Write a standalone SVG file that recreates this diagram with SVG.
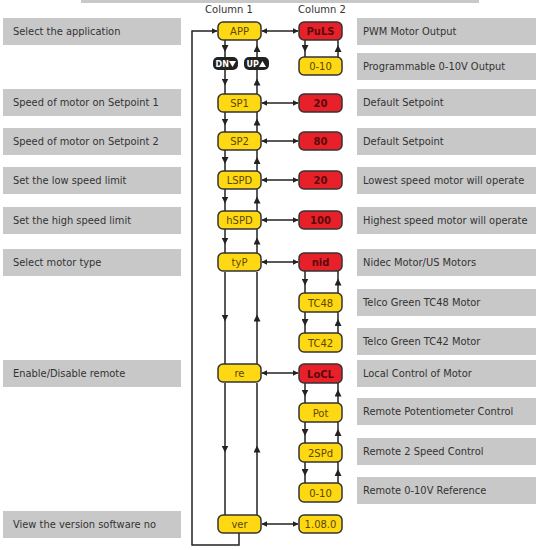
<svg xmlns="http://www.w3.org/2000/svg" width="547" height="550" viewBox="0 0 547 550">
<defs>
<marker id="ah" viewBox="0 0 10 10" refX="9" refY="5" markerWidth="6" markerHeight="6" markerUnits="userSpaceOnUse" orient="auto-start-reverse"><path d="M0,0 L10,5 L0,10 z" fill="#222"/></marker>
<marker id="am" viewBox="0 0 10 10" refX="5" refY="5" markerWidth="7" markerHeight="7" markerUnits="userSpaceOnUse" orient="auto"><path d="M0,0 L10,5 L0,10 z" fill="#222"/></marker>
<style>
.gb{fill:#c8c8c8}
.gt{font-family:"DejaVu Sans",Verdana,sans-serif;font-size:9.9px;fill:#333}
.hd{font-family:"DejaVu Sans",Verdana,sans-serif;font-size:10px;fill:#333;text-anchor:middle}
.y{fill:#ffd814;stroke:#333;stroke-width:1.5}
.r{fill:#e8202a;stroke:#333;stroke-width:1.5}
.yt{font-family:"DejaVu Sans",Verdana,sans-serif;font-size:10px;fill:#5a4800;text-anchor:middle}
.rt{font-family:"DejaVu Sans",Verdana,sans-serif;font-size:10px;font-weight:bold;fill:#5a0a0a;text-anchor:middle}
.ln{fill:none;stroke:#222;stroke-width:1.5}
.bt{fill:#222}
.btt{font-family:"DejaVu Sans",Verdana,sans-serif;font-size:8px;font-weight:bold;fill:#fff}
</style>
</defs>
<rect class="gb" x="81" y="-3" width="398" height="6"/>
<text class="hd" x="229" y="13">Column 1</text>
<text class="hd" x="322" y="13">Column 2</text>

<g id="left-labels">
<g id="l1"><rect class="gb" x="3" y="18" width="178" height="27"/><text class="gt" x="13" y="35">Select the application</text></g>
<g id="l2"><rect class="gb" x="3" y="89" width="178" height="27"/><text class="gt" x="13" y="106">Speed of motor on Setpoint 1</text></g>
<g id="l3"><rect class="gb" x="3" y="128" width="178" height="27"/><text class="gt" x="13" y="145">Speed of motor on Setpoint 2</text></g>
<g id="l4"><rect class="gb" x="3" y="167" width="178" height="27"/><text class="gt" x="13" y="184">Set the low speed limit</text></g>
<g id="l5"><rect class="gb" x="3" y="207" width="178" height="27"/><text class="gt" x="13" y="224">Set the high speed limit</text></g>
<g id="l6"><rect class="gb" x="3" y="249" width="178" height="27"/><text class="gt" x="13" y="266">Select motor type</text></g>
<g id="l7"><rect class="gb" x="3" y="360" width="178" height="27"/><text class="gt" x="13" y="377">Enable/Disable remote</text></g>
<g id="l8"><rect class="gb" x="3" y="511" width="178" height="27"/><text class="gt" x="13" y="528">View the version software no</text></g>
</g>

<g id="right-labels">
<g id="r1"><rect class="gb" x="357" y="18" width="179" height="27"/><text class="gt" x="363" y="35">PWM Motor Output</text></g>
<g id="r2"><rect class="gb" x="357" y="53" width="179" height="27"/><text class="gt" x="363" y="70">Programmable 0-10V Output</text></g>
<g id="r3"><rect class="gb" x="357" y="89" width="179" height="27"/><text class="gt" x="363" y="106">Default Setpoint</text></g>
<g id="r4"><rect class="gb" x="357" y="128" width="179" height="27"/><text class="gt" x="363" y="145">Default Setpoint</text></g>
<g id="r5"><rect class="gb" x="357" y="167" width="179" height="27"/><text class="gt" x="363" y="184">Lowest speed motor will operate</text></g>
<g id="r6"><rect class="gb" x="357" y="207" width="179" height="27"/><text class="gt" x="363" y="224">Highest speed motor will operate</text></g>
<g id="r7"><rect class="gb" x="357" y="249" width="179" height="27"/><text class="gt" x="363" y="266">Nidec Motor/US Motors</text></g>
<g id="r8"><rect class="gb" x="357" y="289" width="179" height="27"/><text class="gt" x="363" y="306">Telco Green TC48 Motor</text></g>
<g id="r9"><rect class="gb" x="357" y="328" width="179" height="27"/><text class="gt" x="363" y="345">Telco Green TC42 Motor</text></g>
<g id="r10"><rect class="gb" x="357" y="360" width="179" height="27"/><text class="gt" x="363" y="377">Local Control of Motor</text></g>
<g id="r11"><rect class="gb" x="357" y="398" width="179" height="27"/><text class="gt" x="363" y="415">Remote Potentiometer Control</text></g>
<g id="r12"><rect class="gb" x="357" y="438" width="179" height="27"/><text class="gt" x="363" y="455">Remote 2 Speed Control</text></g>
<g id="r13"><rect class="gb" x="357" y="477" width="179" height="27"/><text class="gt" x="363" y="494">Remote 0-10V Reference</text></g>
</g>

<g id="connectors">
<path class="ln" d="M225,40 L225,48.5 L225,57" marker-mid="url(#am)"/>
<path class="ln" d="M225,70 L225,82 L225,94" marker-mid="url(#am)"/>
<path class="ln" d="M225,112 L225,122 L225,132" marker-mid="url(#am)"/>
<path class="ln" d="M225,150 L225,160.5 L225,171" marker-mid="url(#am)"/>
<path class="ln" d="M225,189 L225,200 L225,211" marker-mid="url(#am)"/>
<path class="ln" d="M225,229 L225,241 L225,253" marker-mid="url(#am)"/>
<path class="ln" d="M225,272 L225,318 L225,364" marker-mid="url(#am)"/>
<path class="ln" d="M225,383 L225,449 L225,515" marker-mid="url(#am)"/>
<path class="ln" d="M257,57 L257,48.5 L257,40" marker-mid="url(#am)"/>
<path class="ln" d="M257,94 L257,82 L257,70" marker-mid="url(#am)"/>
<path class="ln" d="M257,132 L257,122 L257,112" marker-mid="url(#am)"/>
<path class="ln" d="M257,171 L257,160.5 L257,150" marker-mid="url(#am)"/>
<path class="ln" d="M257,211 L257,200 L257,189" marker-mid="url(#am)"/>
<path class="ln" d="M257,253 L257,241 L257,229" marker-mid="url(#am)"/>
<path class="ln" d="M257,364 L257,318 L257,272" marker-mid="url(#am)"/>
<path class="ln" d="M257,515 L257,449 L257,383" marker-mid="url(#am)"/>
<path class="ln" d="M305,40 L305,48.5 L305,57" marker-mid="url(#am)"/>
<path class="ln" d="M338,57 L338,48.5 L338,40" marker-mid="url(#am)"/>
<path class="ln" d="M305,271 L305,282 L305,293" marker-mid="url(#am)"/>
<path class="ln" d="M338,293 L338,282 L338,271" marker-mid="url(#am)"/>
<path class="ln" d="M305,312 L305,322.5 L305,333" marker-mid="url(#am)"/>
<path class="ln" d="M338,333 L338,322.5 L338,312" marker-mid="url(#am)"/>
<path class="ln" d="M305,383 L305,393 L305,403" marker-mid="url(#am)"/>
<path class="ln" d="M338,403 L338,393 L338,383" marker-mid="url(#am)"/>
<path class="ln" d="M305,422 L305,432.5 L305,443" marker-mid="url(#am)"/>
<path class="ln" d="M338,443 L338,432.5 L338,422" marker-mid="url(#am)"/>
<path class="ln" d="M305,462 L305,472.5 L305,483" marker-mid="url(#am)"/>
<path class="ln" d="M338,483 L338,472.5 L338,462" marker-mid="url(#am)"/>
<path class="ln" d="M262,31 H298" marker-start="url(#ah)" marker-end="url(#ah)"/>
<path class="ln" d="M262,103 H298" marker-start="url(#ah)" marker-end="url(#ah)"/>
<path class="ln" d="M262,141 H298" marker-start="url(#ah)" marker-end="url(#ah)"/>
<path class="ln" d="M262,180 H298" marker-start="url(#ah)" marker-end="url(#ah)"/>
<path class="ln" d="M262,220 H298" marker-start="url(#ah)" marker-end="url(#ah)"/>
<path class="ln" d="M262,262 H298" marker-start="url(#ah)" marker-end="url(#ah)"/>
<path class="ln" d="M262,373 H298" marker-start="url(#ah)" marker-end="url(#ah)"/>
<path class="ln" d="M262,524 H298" marker-start="url(#ah)" marker-end="url(#ah)"/>
<path class="ln" d="M239,533 V545 H192 V31 H217" marker-end="url(#ah)"/>
</g>

<g id="btn-dn"><rect class="bt" x="213" y="57" width="25" height="13" rx="5"/><text class="btt" x="215.5" y="66.5">DN</text><path d="M229,61 L236,61 L232.5,67 z" fill="#fff"/></g>
<g id="btn-up"><rect class="bt" x="244" y="57" width="25" height="13" rx="5"/><text class="btt" x="246.5" y="66.5">UP</text><path d="M259,67 L266,67 L262.5,61 z" fill="#fff"/></g>

<g id="n-app"><rect class="y" x="218" y="22" width="43" height="18" rx="5"/><text class="yt" x="239.5" y="35">APP</text></g>
<g id="n-sp1"><rect class="y" x="218" y="94" width="43" height="18" rx="5"/><text class="yt" x="239.5" y="107">SP1</text></g>
<g id="n-sp2"><rect class="y" x="218" y="132" width="43" height="18" rx="5"/><text class="yt" x="239.5" y="145">SP2</text></g>
<g id="n-lspd"><rect class="y" x="218" y="171" width="43" height="18" rx="5"/><text class="yt" x="239.5" y="184">LSPD</text></g>
<g id="n-hspd"><rect class="y" x="218" y="211" width="43" height="18" rx="5"/><text class="yt" x="239.5" y="224">hSPD</text></g>
<g id="n-typ"><rect class="y" x="218" y="253" width="43" height="18" rx="5"/><text class="yt" x="239.5" y="266">tyP</text></g>
<g id="n-re"><rect class="y" x="218" y="364" width="43" height="18" rx="5"/><text class="yt" x="239.5" y="377">re</text></g>
<g id="n-ver"><rect class="y" x="218" y="515" width="43" height="18" rx="5"/><text class="yt" x="239.5" y="528">ver</text></g>

<g id="n-puls"><rect class="r" x="299" y="22" width="43" height="18" rx="5"/><text class="rt" x="320.5" y="35">PuLS</text></g>
<g id="n-010a"><rect class="y" x="299" y="57" width="43" height="18" rx="5"/><text class="yt" x="320.5" y="70">0-10</text></g>
<g id="n-20a"><rect class="r" x="299" y="94" width="43" height="18" rx="5"/><text class="rt" x="320.5" y="107">20</text></g>
<g id="n-80"><rect class="r" x="299" y="132" width="43" height="18" rx="5"/><text class="rt" x="320.5" y="145">80</text></g>
<g id="n-20b"><rect class="r" x="299" y="171" width="43" height="18" rx="5"/><text class="rt" x="320.5" y="184">20</text></g>
<g id="n-100"><rect class="r" x="299" y="211" width="43" height="18" rx="5"/><text class="rt" x="320.5" y="224">100</text></g>
<g id="n-nid"><rect class="r" x="299" y="253" width="43" height="18" rx="5"/><text class="rt" x="320.5" y="266">nid</text></g>
<g id="n-tc48"><rect class="y" x="299" y="293" width="43" height="19" rx="5"/><text class="yt" x="320.5" y="306.5">TC48</text></g>
<g id="n-tc42"><rect class="y" x="299" y="333" width="43" height="19" rx="5"/><text class="yt" x="320.5" y="346.5">TC42</text></g>
<g id="n-locl"><rect class="r" x="299" y="364" width="43" height="19" rx="5"/><text class="rt" x="320.5" y="377.5">LoCL</text></g>
<g id="n-pot"><rect class="y" x="299" y="403" width="43" height="19" rx="5"/><text class="yt" x="320.5" y="416.5">Pot</text></g>
<g id="n-2spd"><rect class="y" x="299" y="443" width="43" height="19" rx="5"/><text class="yt" x="320.5" y="456.5">2SPd</text></g>
<g id="n-010b"><rect class="y" x="299" y="483" width="43" height="19" rx="5"/><text class="yt" x="320.5" y="496.5">0-10</text></g>
<g id="n-ver-val"><rect class="y" x="299" y="515" width="43" height="18" rx="5"/><text class="yt" x="320.5" y="528">1.08.0</text></g>
</svg>
